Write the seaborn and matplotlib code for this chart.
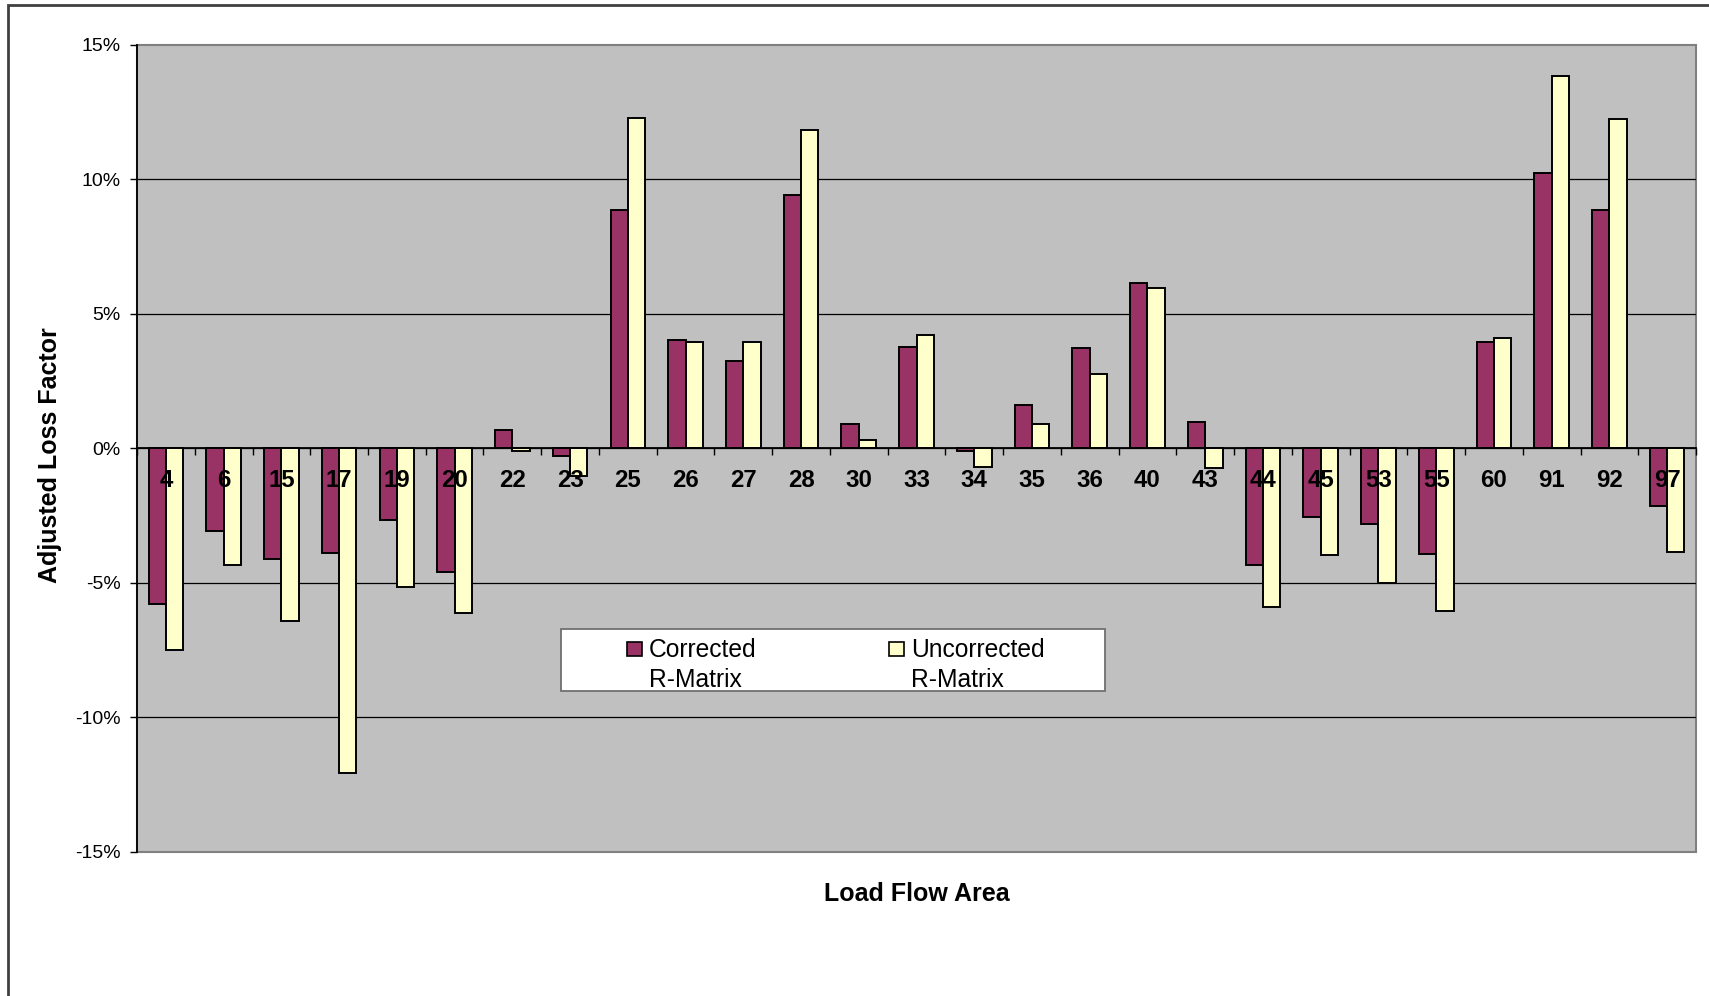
import matplotlib.pyplot as plt
import numpy as np
import pandas as pd
import seaborn as sns
from matplotlib.legend_handler import HandlerPatch
from matplotlib.patches import Patch, Rectangle
from matplotlib.ticker import FixedLocator, PercentFormatter

# load flow areas (category axis)
areas = ['4', '6', '15', '17', '19', '20', '22', '23', '25', '26', '27', '28', '30', '33',
         '34', '35', '36', '40', '43', '44', '45', '53', '55', '60', '91', '92', '97']

# adjusted loss factor, in percent
corrected = [-5.79, -3.06, -4.13, -3.91, -2.65, -4.60, 0.67, -0.30, 8.87, 4.01, 3.25, 9.41, 0.89, 3.77,
             -0.10, 1.61, 3.71, 6.13, 0.99, -4.32, -2.56, -2.81, -3.92, 3.95, 10.22, 8.87, -2.16]
uncorrected = [-7.50, -4.32, -6.43, -12.08, -5.14, -6.13, -0.11, -1.04, 12.28, 3.95, 3.95, 11.82, 0.31, 4.20,
               -0.68, 0.89, 2.77, 5.94, -0.74, -5.91, -3.98, -5.02, -6.03, 4.11, 13.82, 12.23, -3.85]

series_names = ['Corrected\nR-Matrix', 'Uncorrected\nR-Matrix']
colors = ['#993366', '#FFFFCC']
y_ticks = [-15, -10, -5, 0, 5, 10, 15]


def upper_square(legend, orig_handle, xdescent, ydescent, width, height, fontsize):
    # put the legend square next to the first line of the two line label
    return Rectangle((-xdescent, -ydescent + 0.68 * fontsize), width, width)


def main():
    df = pd.DataFrame({
        'area': areas * 2,
        'series': [series_names[0]] * len(areas) + [series_names[1]] * len(areas),
        'value': corrected + uncorrected,
    })

    sns.set_theme(style='white')
    plt.rcParams['font.family'] = ['Liberation Sans', 'DejaVu Sans']
    plt.rcParams['axes.unicode_minus'] = False

    fig = plt.figure(figsize=(17.09, 9.96), dpi=100)
    ax = fig.add_axes([0.0802, 0.1446, 0.9122, 0.8107])

    sns.barplot(data=df, x='area', y='value', hue='series', order=areas, hue_order=series_names,
                palette=colors, saturation=1, width=0.6, edgecolor='black', linewidth=1.4,
                errorbar=None, legend=False, ax=ax)

    ax.set_facecolor('#C0C0C0')
    ax.patch.set_edgecolor('#808080')
    ax.patch.set_linewidth(1.5)

    ax.spines['top'].set_visible(False)
    ax.spines['right'].set_visible(False)
    ax.spines['bottom'].set_position(('data', 0))
    for side in ['left', 'bottom']:
        ax.spines[side].set_color('black')
        ax.spines[side].set_linewidth(1.3)

    ax.set_ylim(-15, 15)
    ax.set_yticks(y_ticks)
    ax.yaxis.set_major_formatter(PercentFormatter(xmax=100, decimals=0))
    ax.tick_params(axis='y', direction='out', length=5, width=1, color='black', pad=7,
                   labelsize=14, labelcolor='black', left=True)

    ax.yaxis.grid(True, color='black', linewidth=0.9)
    ax.xaxis.grid(False)
    ax.set_axisbelow(True)
    ax.xaxis.set_zorder(3)
    ticks = ax.yaxis.get_major_ticks()
    ticks[0].gridline.set_visible(False)
    ticks[-1].gridline.set_visible(False)

    # category labels sit just under the zero line, tick marks between categories
    ax.xaxis.set_minor_locator(FixedLocator(np.arange(-0.5, len(areas), 1)))
    ax.tick_params(axis='x', which='major', length=0, pad=14.6, labelsize=17.3, labelcolor='black')
    ax.tick_params(axis='x', which='minor', direction='out', length=5, width=1, color='black', bottom=True)
    plt.setp(ax.get_xticklabels(), fontweight='bold')

    ax.set_xlabel('Load Flow Area', fontsize=18, fontweight='bold', color='black')
    ax.xaxis.set_label_coords(0.5, -0.037)
    ax.set_ylabel('Adjusted Loss Factor', fontsize=18, fontweight='bold', color='black')
    ax.yaxis.set_label_coords(-0.048, 0.4916)

    # legend box drawn by hand, the entries on top of it
    ax.add_patch(Rectangle((0.272, 0.1994), 0.349, 0.0762, transform=ax.transAxes,
                           facecolor='white', edgecolor='#707070', linewidth=1.3, zorder=4))
    handles = [Patch(facecolor=c, edgecolor='black', linewidth=1.2) for c in colors]
    leg = ax.legend(handles, series_names, ncol=2, loc='upper left', bbox_to_anchor=(0.3143, 0.2656),
                    frameon=False, fontsize=17.7, handlelength=0.6, handleheight=0.6,
                    handletextpad=0.28, columnspacing=5.4, borderpad=0, borderaxespad=0,
                    handler_map={Patch: HandlerPatch(patch_func=upper_square)})
    leg.set_zorder(5)
    for t in leg.get_texts():
        t.set_color('black')
        t.set_linespacing(1.32)

    # outer chart frame, cut off on the right and at the bottom
    fig.add_artist(Rectangle((0.0045, -0.05), 1.2, 1.0453, transform=fig.transFigure,
                             fill=False, edgecolor='#404040', linewidth=2))

    fig.savefig('out.png', dpi=100)


if __name__ == "__main__":
    main()
